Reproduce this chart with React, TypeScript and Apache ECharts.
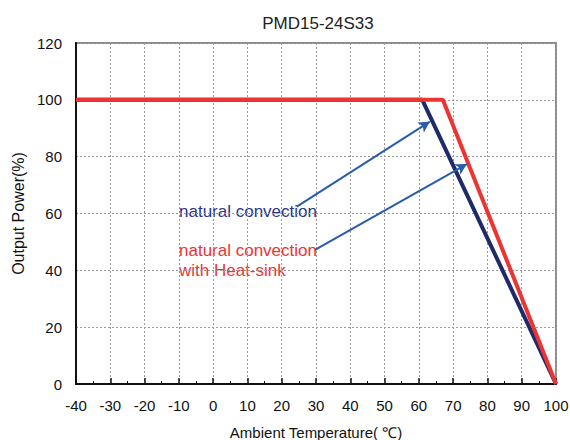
import React, { useEffect, useRef } from "react";
import * as echarts from "echarts";

// Derating curves: [ambient temperature (°C), output power (%)]
const naturalConvection: [number, number][] = [
  [-40, 100],
  [61, 100],
  [100, 0],
];
const withHeatSink: [number, number][] = [
  [-40, 100],
  [67, 100],
  [100, 0],
];

// Callout arrows: [from, to] in data coordinates
const arrowNatural: [number, number][] = [
  [24.4, 62.4],
  [63.2, 92.3],
];
const arrowHeatSink: [number, number][] = [
  [29.7, 47.2],
  [74.0, 77.4],
];

const title = "PMD15-24S33";
const xName = "Ambient Temperature( ℃)";
const yName = "Output Power(%)";
const labelNatural = "natural convection";
const labelHeatSink1 = "natural convection";
const labelHeatSink2 = "with Heat-sink";

const FONT = "Liberation Sans, Arial, sans-serif";

export default function App() {
  const ref = useRef<HTMLDivElement>(null);

  useEffect(() => {
    if (!ref.current) return;
    const chart = echarts.init(ref.current, undefined, { renderer: "svg" });

    const arrowLine = (pts: [number, number][]) => [
      { coord: pts[0], symbol: "none" },
      { coord: pts[1], symbol: "arrow" },
    ];

    const note = (text: string, y: number, fill: string) => ({
      type: "text",
      x: 179,
      y,
      style: {
        text,
        fill,
        font: `17px ${FONT}`,
        textVerticalAlign: "middle",
        verticalAlign: "middle",
      },
    });

    chart.setOption({
      animation: false,
      backgroundColor: "#ffffff",
      textStyle: { fontFamily: FONT },
      title: {
        text: title,
        left: 313,
        top: 10,
        textAlign: "center",
        textStyle: { fontSize: 17, fontWeight: "normal", color: "#222", fontFamily: FONT },
      },
      grid: {
        left: 76,
        right: 14,
        top: 43,
        bottom: 56,
        outerBoundsMode: "none",
        containLabel: false,
        show: true,
        borderColor: "#8c8c8c",
        borderWidth: 2,
      },
      xAxis: {
        type: "value",
        min: -40,
        max: 100,
        interval: 10,
        name: xName,
        nameLocation: "middle",
        nameGap: 41,
        nameTextStyle: { fontSize: 15, color: "#111", fontFamily: FONT },
        axisLine: { onZero: false, lineStyle: { color: "#111", width: 2 } },
        axisTick: { show: true, inside: true, length: 6, lineStyle: { color: "#111", width: 1.5 } },
        minorTick: { show: true, splitNumber: 2, length: 3, lineStyle: { color: "#111", width: 1 } },
        axisLabel: { fontSize: 15, color: "#111", margin: 14, fontFamily: FONT },
        splitLine: { show: true, lineStyle: { color: "#9a9a9a", type: [2, 2], width: 1 } },
      },
      yAxis: {
        type: "value",
        min: 0,
        max: 120,
        interval: 20,
        name: yName,
        nameLocation: "middle",
        nameGap: 42,
        nameTextStyle: { fontSize: 16, color: "#111", fontFamily: FONT },
        axisLine: { show: true, onZero: false, lineStyle: { color: "#111", width: 2 } },
        axisTick: { show: false },
        axisLabel: { fontSize: 15, color: "#111", margin: 14, fontFamily: FONT },
        splitLine: { show: true, lineStyle: { color: "#9a9a9a", type: [2, 2], width: 1 } },
      },
      series: [
        {
          name: "natural convection",
          type: "line",
          data: naturalConvection,
          showSymbol: false,
          lineStyle: { color: "#1f2a68", width: 4 },
          z: 3,
          markLine: {
            silent: true,
            symbolSize: [9, 11],
            label: { show: false },
            lineStyle: { color: "#2a5cab", width: 2, type: "solid" },
            data: [arrowLine(arrowNatural), arrowLine(arrowHeatSink)],
          },
        },
        {
          name: "natural convection with Heat-sink",
          type: "line",
          data: withHeatSink,
          showSymbol: false,
          lineStyle: { color: "#ee3333", width: 4 },
          z: 4,
        },
      ],
      graphic: [
        note(labelNatural, 211, "#2b3585"),
        note(labelHeatSink1, 250, "#ee3333"),
        note(labelHeatSink2, 270, "#ee3333"),
      ],
    });

    return () => chart.dispose();
  }, []);

  return (
    <div
      ref={ref}
      style={{ position: "fixed", left: 0, top: 0, width: 570, height: 440 }}
    />
  );
}
